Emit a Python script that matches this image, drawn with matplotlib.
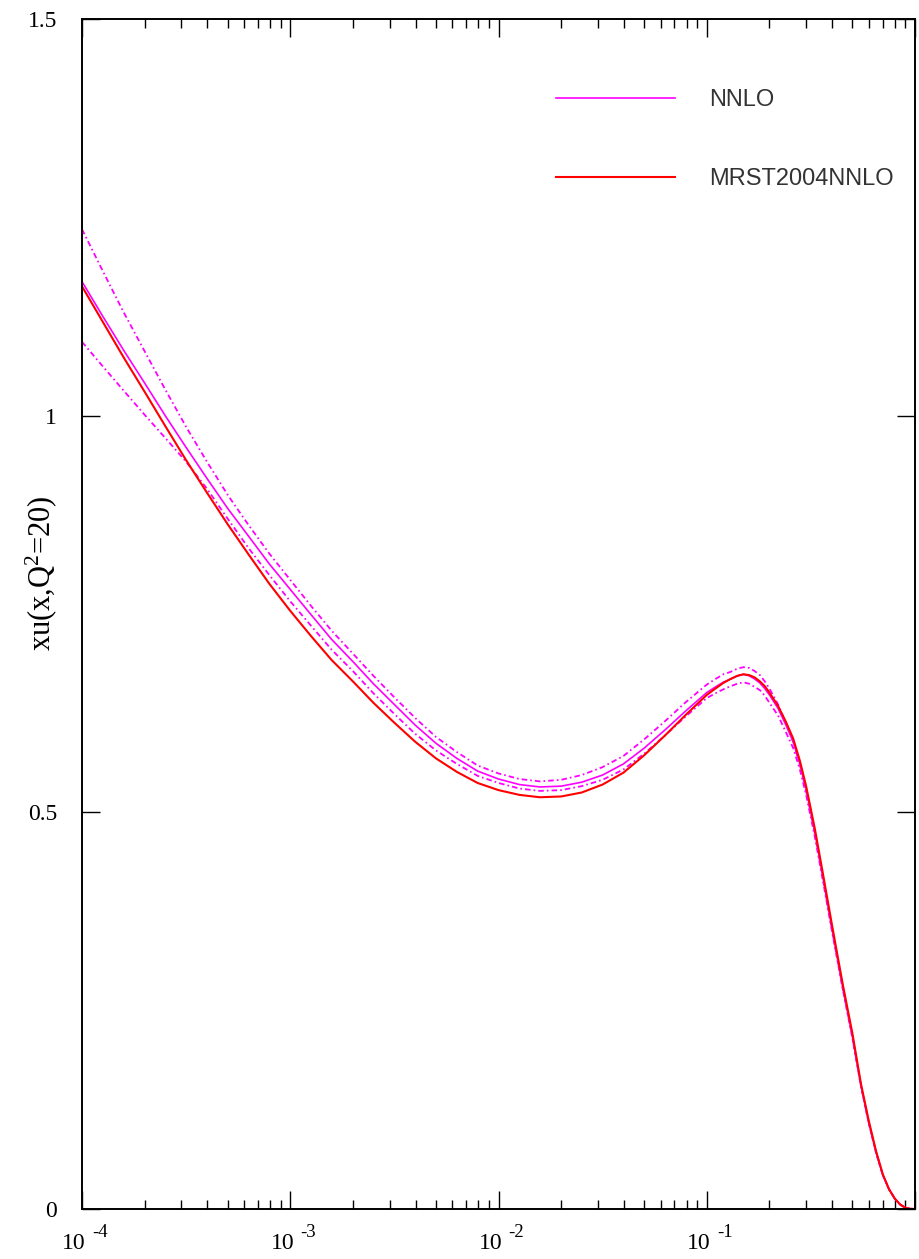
import matplotlib
matplotlib.use("Agg")
import matplotlib.pyplot as plt
from matplotlib.ticker import LogLocator, NullLocator, NullFormatter, FixedLocator
from matplotlib.transforms import offset_copy

# x grid (Bjorken x): tenth-of-a-decade steps below 0.1, finer linear steps above
x = [1.0e-4, 1.26e-4, 1.58e-4, 2.0e-4, 2.51e-4, 3.16e-4, 3.98e-4, 5.01e-4, 6.31e-4, 7.94e-4,
     1.0e-3, 1.26e-3, 1.58e-3, 2.0e-3, 2.51e-3, 3.16e-3, 3.98e-3, 5.01e-3, 6.31e-3, 7.94e-3,
     1.0e-2, 1.26e-2, 1.58e-2, 2.0e-2, 2.51e-2, 3.16e-2, 3.98e-2, 5.01e-2, 6.31e-2, 7.94e-2,
     0.10, 0.11, 0.12, 0.13, 0.14, 0.15, 0.16, 0.17, 0.18, 0.19, 0.20, 0.22, 0.24, 0.26,
     0.28, 0.30, 0.33, 0.36, 0.40, 0.45, 0.50, 0.55, 0.60, 0.65, 0.70, 0.75, 0.80, 0.85,
     0.90, 0.95, 1.00]

# xu(x, Q^2=20): NNLO central value and its error band
nnlo = [1.169, 1.125, 1.083, 1.041, 1.000, 0.960, 0.921, 0.883, 0.848, 0.813,
        0.781, 0.749, 0.718, 0.690, 0.662, 0.636, 0.610, 0.587, 0.568, 0.552,
        0.542, 0.535, 0.532, 0.533, 0.538, 0.547, 0.561, 0.581, 0.604, 0.628,
        0.651, 0.658, 0.664, 0.668, 0.672, 0.674, 0.672, 0.668, 0.663, 0.656, 0.648,
        0.631, 0.610, 0.589, 0.561, 0.529, 0.476, 0.421, 0.353, 0.280, 0.219, 0.156,
        0.109, 0.072, 0.043, 0.025, 0.013, 0.0055, 0.0015, 0.0003, 0.0]
nnlo_up = [1.235, 1.182, 1.131, 1.081, 1.033, 0.986, 0.942, 0.900, 0.862, 0.826,
           0.793, 0.760, 0.729, 0.700, 0.672, 0.645, 0.619, 0.595, 0.576, 0.559,
           0.549, 0.542, 0.539, 0.541, 0.547, 0.557, 0.571, 0.592, 0.615, 0.639,
           0.661, 0.668, 0.674, 0.677, 0.681, 0.683, 0.682, 0.678, 0.673, 0.665, 0.656,
           0.636, 0.612, 0.589, 0.560, 0.527, 0.474, 0.419, 0.351, 0.278, 0.217, 0.155,
           0.108, 0.071, 0.043, 0.025, 0.013, 0.0055, 0.0015, 0.0003, 0.0]
nnlo_dn = [1.093, 1.062, 1.032, 1.001, 0.972, 0.942, 0.908, 0.870, 0.833, 0.799,
           0.766, 0.735, 0.705, 0.678, 0.650, 0.624, 0.599, 0.578, 0.561, 0.546,
           0.537, 0.530, 0.527, 0.528, 0.533, 0.541, 0.554, 0.574, 0.597, 0.621,
           0.644, 0.650, 0.655, 0.659, 0.662, 0.664, 0.662, 0.658, 0.654, 0.647, 0.638,
           0.622, 0.601, 0.581, 0.554, 0.522, 0.470, 0.416, 0.349, 0.277, 0.216, 0.155,
           0.108, 0.071, 0.043, 0.025, 0.013, 0.0055, 0.0015, 0.0003, 0.0]
# MRST2004 NNLO reference
mrst = [1.163, 1.118, 1.074, 1.030, 0.987, 0.944, 0.903, 0.863, 0.825, 0.788,
        0.754, 0.722, 0.692, 0.665, 0.638, 0.613, 0.589, 0.568, 0.551, 0.537,
        0.528, 0.522, 0.519, 0.520, 0.525, 0.535, 0.550, 0.572, 0.597, 0.623,
        0.648, 0.656, 0.663, 0.668, 0.672, 0.674, 0.673, 0.670, 0.665, 0.659, 0.651,
        0.634, 0.614, 0.593, 0.565, 0.533, 0.480, 0.425, 0.357, 0.283, 0.222, 0.158,
        0.111, 0.073, 0.044, 0.025, 0.013, 0.0055, 0.0015, 0.0003, 0.0]

x_decades = [-4, -3, -2, -1]
y_ticks = [0, 0.5, 1, 1.5]
y_ticklabels = ["0", "0.5", "1", "1.5"]

plt.rcParams["lines.scale_dashes"] = False
plt.rcParams["mathtext.fontset"] = "custom"
plt.rcParams["mathtext.rm"] = "Liberation Serif"
plt.rcParams["mathtext.it"] = "Liberation Serif:italic"

MAGENTA = "#ff00ff"
RED = "#ff0000"
serif = "Liberation Serif"

W, H = 920, 1259
fig = plt.figure(figsize=(W / 100, H / 100), dpi=100)
ax = fig.add_axes([82 / W, 1 - 1209 / H, 833 / W, 1190 / H])

dashdot = (0, (4.0, 2.2, 1.2, 2.2))
ax.plot(x, nnlo_up, color=MAGENTA, lw=1.3, ls=dashdot)
ax.plot(x, nnlo_dn, color=MAGENTA, lw=1.3, ls=dashdot)
l_nnlo, = ax.plot(x, nnlo, color=MAGENTA, lw=1.2, label="NNLO")
l_mrst, = ax.plot(x, mrst, color=RED, lw=1.5, label="MRST2004NNLO")

ax.set_xscale("log")
ax.set_xlim(1e-4, 1)
ax.set_ylim(0, 1.5)

# ticks
ax.xaxis.set_major_locator(FixedLocator([10.0 ** d for d in x_decades] + [1.0]))
ax.xaxis.set_minor_locator(LogLocator(base=10, subs=range(2, 10), numticks=20))
ax.xaxis.set_major_formatter(NullFormatter())
ax.xaxis.set_minor_formatter(NullFormatter())
ax.set_yticks(y_ticks)
ax.set_yticklabels(y_ticklabels, family=serif, fontsize=17)
ax.yaxis.set_minor_locator(NullLocator())
ax.tick_params(which="both", direction="in", top=True, right=True, width=1.0, color="black")
ax.tick_params(which="major", length=13)
ax.tick_params(which="minor", length=6.5)
ax.tick_params(axis="y", pad=18)
for s in ax.spines.values():
    s.set_linewidth(1.4)

# decade labels of the form 10^-n
trans = ax.get_xaxis_transform()
for d in x_decades:
    t_base = offset_copy(trans, fig=fig, x=4, y=-40, units="dots")
    t_exp = offset_copy(trans, fig=fig, x=10, y=-28, units="dots")
    ax.text(10.0 ** d, 0, "10", transform=t_base, ha="right", va="baseline",
            family=serif, fontsize=17)
    ax.text(10.0 ** d, 0, str(d), transform=t_exp, ha="left", va="baseline",
            family=serif, fontsize=13.5)

fig.text(41 / W, 1 - 573 / H, r"xu(x,$\mathrm{Q}^{2}$=20)", rotation=90,
         ha="center", va="center", family=serif, fontsize=22)

leg = ax.legend(handles=[l_nnlo, l_mrst], loc="upper left",
                bbox_to_anchor=((556 - 82) / 833, (1209 - 89) / 1190),
                frameon=False, borderpad=0, borderaxespad=0,
                handlelength=5.04, handletextpad=1.44, labelspacing=2.42,
                prop={"family": "Liberation Sans", "size": 17})
for t in leg.get_texts():
    t.set_color("#333333")

fig.savefig("out.png", dpi=100)
